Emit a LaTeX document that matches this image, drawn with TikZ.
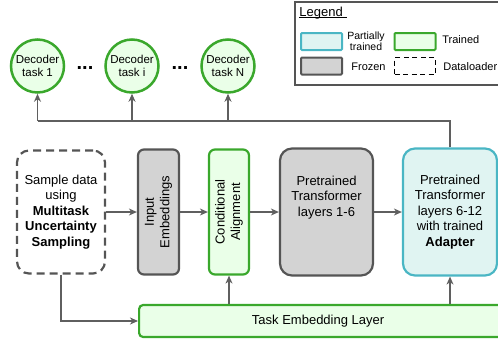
\documentclass[tikz,border=0pt]{standalone}
\usepackage{fontspec}
\setmainfont{Liberation Sans}
\usetikzlibrary{arrows.meta,positioning}

\definecolor{trainedgreen}{RGB}{58,168,44}
\definecolor{trainedfill}{RGB}{234,255,232}
\definecolor{partteal}{RGB}{74,182,196}
\definecolor{partfill}{RGB}{224,244,242}
\definecolor{frozengray}{RGB}{85,85,85}
\definecolor{frozenfill}{RGB}{211,211,211}
\definecolor{linegray}{RGB}{95,95,95}

\tikzset{every picture/.style={line width=0.75pt}}
\tikzset{
  txt/.style={font=\fontsize{13}{15.5}\selectfont, align=center, inner sep=0pt},
  trained/.style={draw=trainedgreen, fill=trainedfill, line width=2.2pt, rounded corners=6pt},
  partial/.style={draw=partteal, fill=partfill, line width=2.2pt, rounded corners=10pt},
  frozen/.style={draw=frozengray, fill=frozenfill, line width=2.2pt, rounded corners=8pt},
  loader/.style={draw=frozengray, dash pattern=on 8pt off 5pt, line width=2.2pt, rounded corners=12pt},
  decoder/.style={circle, draw=trainedgreen, fill=trainedfill, line width=2.5pt, minimum size=53pt,
    inner sep=0pt, align=center, font=\fontsize{11.5}{13.5}\selectfont},
  conn/.style={draw=linegray, line width=1.3pt},
  arr/.style={conn, -{Stealth[length=8pt,width=7pt,inset=2.5pt]}},
  key/.style={minimum width=41pt, minimum height=17pt, inner sep=0pt, line width=2pt, rounded corners=1pt},
  keytxt/.style={anchor=west, inner sep=0pt, font=\fontsize{11}{12}\selectfont},
}

\begin{document}
\begin{tikzpicture}[x=1pt,y=1pt,yscale=-1]
\useasboundingbox (0,0) rectangle (498,338);

%Legend
\draw[draw=frozengray, line width=1.2pt] (295,2) rectangle (520,85);
\node[anchor=west, inner sep=0pt, font=\fontsize{13}{15}\selectfont] (legtitle) at (299,13) {Legend};
\draw[line width=0.8pt] (legtitle.south west) ++(0,-2) -- ++(48,0);
\node[key, draw=partteal, fill=partfill] (keypart) at (321.5,41.5) {};
\node[key, draw=trainedgreen, fill=trainedfill] (keytrain) at (415,41.5) {};
\node[key, draw=frozengray, fill=frozenfill] (keyfroz) at (321.5,66) {};
\node[key, draw=black, dash pattern=on 5pt off 3.5pt, line width=1.2pt, rounded corners=0pt] (keyload) at (415,66) {};
\node[keytxt, align=center, font=\fontsize{10.5}{8.5}\selectfont] at (347,41) {Partially\\trained};
\node[keytxt] at (442,40) {Trained};
\node[keytxt] at (351,67) {Frozen};
\node[keytxt] at (443,67) {Dataloader};

%Decoders
\node[decoder] (dec1) at (37.5,66) {Decoder\\task 1};
\node[decoder] (deci) at (132,66) {Decoder\\task i};
\node[decoder] (decn) at (228,66) {Decoder\\task N};
\node[anchor=base, inner sep=0pt, font=\fontsize{20}{20}\bfseries] (dotsa) at (85,69.5) {...};
\node[anchor=base, inner sep=0pt, font=\fontsize{20}{20}\bfseries] (dotsb) at (180,69.5) {...};

%Main row
\node[txt, loader, minimum width=88pt, minimum height=123pt] (sample) at (61,212)
  {Sample data\\using\\\textbf{Multitask}\\\textbf{Uncertainty}\\\textbf{Sampling}};
\node[txt, frozen, minimum width=41pt, minimum height=125pt, rounded corners=6pt] (inemb) at (158.5,212) {};
\node[txt, rotate=90] at (inemb) {Input\\Embeddings};
\node[txt, trained, minimum width=40pt, minimum height=125pt] (cond) at (229,212) {};
\node[txt, rotate=90] at (cond) {Conditional\\Alignment};
\node[txt, frozen, minimum width=93pt, minimum height=127pt, rounded corners=12pt] (ptlow) at (326.5,212)
  {Pretrained\\Transformer\\layers 1-6\\[16pt]};
\node[txt, partial, minimum width=94pt, minimum height=127pt, rounded corners=12pt] (adapter) at (450,212)
  {Pretrained\\Transformer\\layers 6-12\\with trained\\\textbf{Adapter}};
\node[txt, trained, rounded corners=4pt, minimum width=370pt, minimum height=32pt, anchor=west] (taskemb) at (138,321)
  {\hspace*{-12pt}Task Embedding Layer};

%Connectors
\draw[arr] (sample.east) -- (inemb.west);
\draw[arr] (inemb.east) -- (cond.west);
\draw[arr] (cond.east) -- (ptlow.west);
\draw[arr] (ptlow.east) -- (adapter.west);
\draw[arr] (sample.south) |- (taskemb.west);
\draw[arr] (taskemb.north -| cond) -- (cond.south);
\draw[arr] (taskemb.north -| adapter) -- (adapter.south);

\coordinate (busleft) at (37.5,121);
\draw[conn] (adapter.north) |- (busleft);
\draw[arr] (busleft) -- (dec1.south);
\draw[arr] (busleft -| deci) -- (deci.south);
\draw[arr] (busleft -| decn) -- (decn.south);

\end{tikzpicture}
\end{document}
